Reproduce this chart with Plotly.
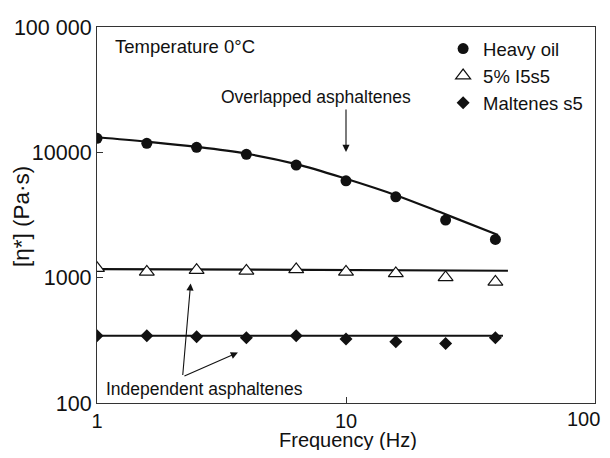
import plotly.graph_objects as go

# ---- data ----
freq = [1, 1.585, 2.512, 3.981, 6.31, 10, 15.85, 25.12, 39.81]

heavy_oil = [12940, 11800, 10960, 9640, 7920, 5930, 4420, 2880, 2020]
i5s5 = [1190, 1112, 1148, 1133, 1163, 1112, 1081, 1004, 925]
maltenes = [344, 344, 337, 331, 344, 324, 308, 299, 331]

heavy_fit_x = [1, 1.585, 2.512, 3.981, 6.31, 10, 15.85, 25.12, 40.8]
heavy_fit_y = [13190, 12150, 11050, 9750, 8050, 6150, 4550, 3200, 2190]
i5s5_fit_x = [1, 44.7]
i5s5_fit_y = [1172, 1135]
malt_fit_x = [1, 42.7]
malt_fit_y = [344, 344]

y_tickvals = [100, 1000, 10000, 100000]
y_ticktext = ["100", "1000", "10000", "100 000"]
x_tickvals = [1, 10, 100]
x_ticktext = ["1", "10", "100"]

FONT = "Liberation Sans, Arial, Helvetica, sans-serif"
INK = "#111111"
TICK_SIZE = 21.5
XTICK_SIZE = 20

fig = go.Figure()

# fit lines
fig.add_trace(go.Scatter(x=heavy_fit_x, y=heavy_fit_y, mode="lines",
                         line=dict(color=INK, width=2.2, shape="spline"),
                         showlegend=False, hoverinfo="skip"))
fig.add_trace(go.Scatter(x=i5s5_fit_x, y=i5s5_fit_y, mode="lines",
                         line=dict(color=INK, width=2.2),
                         showlegend=False, hoverinfo="skip"))
fig.add_trace(go.Scatter(x=malt_fit_x, y=malt_fit_y, mode="lines",
                         line=dict(color=INK, width=2.2),
                         showlegend=False, hoverinfo="skip"))

# data markers
fig.add_trace(go.Scatter(x=freq, y=heavy_oil, mode="markers", name="Heavy oil",
                         marker=dict(symbol="circle", size=11, color=INK,
                                     line=dict(width=0))))
fig.add_trace(go.Scatter(x=freq, y=i5s5, mode="markers", name="5% I5s5",
                         marker=dict(symbol="triangle-up", size=13, color="white",
                                     line=dict(width=1.2, color=INK))))
fig.add_trace(go.Scatter(x=freq, y=maltenes, mode="markers", name="Maltenes s5",
                         marker=dict(symbol="diamond", size=10, color=INK,
                                     line=dict(width=0))))

axis_common = dict(
    showline=True, linecolor="#333333", linewidth=1.2, mirror=True,
    ticks="inside", ticklen=6, tickwidth=1.2, tickcolor="#333333",
    showgrid=False, zeroline=False, automargin=False,
)

# the last x label ("100") sits at the right frame edge; it is drawn as an
# annotation nudged left so it stays inside the window, as in the reference
fig.update_xaxes(type="log", range=[0, 2], tickvals=x_tickvals[:-1],
                 ticktext=x_ticktext[:-1],
                 tickfont=dict(family=FONT, size=XTICK_SIZE, color=INK),
                 **axis_common)
fig.update_yaxes(type="log", range=[2, 5], tickvals=y_tickvals, ticktext=y_ticktext,
                 tickfont=dict(family=FONT, size=TICK_SIZE, color=INK),
                 **axis_common)

ann_font = dict(family=FONT, size=17.5, color=INK)
annotations = [
    dict(text=x_ticktext[-1], xref="paper", yref="paper", x=1, y=-0.042,
         xanchor="right", yanchor="middle", xshift=7, showarrow=False,
         font=dict(family=FONT, size=XTICK_SIZE, color=INK)),
    # axis titles
    dict(text="Frequency (Hz)", xref="paper", yref="paper", x=0.504, y=-0.0971,
         xanchor="center", yanchor="middle", showarrow=False,
         font=dict(family=FONT, size=20, color=INK)),
    dict(text="[η*] (Pa·s)", xref="paper", yref="paper", x=-0.1506, y=0.4947,
         xanchor="center", yanchor="middle", showarrow=False, textangle=-90,
         font=dict(family=FONT, size=22.5, color=INK)),
    # labels
    dict(text="Temperature 0°C", xref="paper", yref="paper", x=0.032, y=0.9476,
         xanchor="left", yanchor="middle", showarrow=False,
         font=dict(family=FONT, size=18.5, color=INK)),
    dict(text="Overlapped asphaltenes", xref="paper", yref="paper", x=0.245, y=0.8146,
         xanchor="left", yanchor="middle", showarrow=False, font=ann_font),
    dict(text="Independent asphaltenes", xref="paper", yref="paper", x=0.015, y=0.037,
         xanchor="left", yanchor="middle", showarrow=False, font=ann_font),
    # arrows
    dict(text="", xref="paper", yref="paper", x=0.5, y=0.6676, ax=0, ay=-44,
         showarrow=True, arrowhead=2, arrowsize=1.3, arrowwidth=1.1, arrowcolor=INK,
         standoff=0),
    dict(text="", xref="paper", yref="paper", x=0.188, y=0.318, ax=-8, ay=93,
         showarrow=True, arrowhead=2, arrowsize=1.3, arrowwidth=1.1, arrowcolor=INK,
         standoff=0),
    dict(text="", xref="paper", yref="paper", x=0.283, y=0.134, ax=-55, ay=24,
         showarrow=True, arrowhead=2, arrowsize=1.3, arrowwidth=1.1, arrowcolor=INK,
         standoff=0),
]

# page body has an 8px margin, so the figure is offset by (8, 8) in the window;
# size chosen so the page fits the 610x458 window without scrollbars
fig.update_layout(
    width=594, height=442,
    margin=dict(l=89, r=7, t=19, b=47),
    paper_bgcolor="white", plot_bgcolor="white",
    font=dict(family=FONT, color=INK),
    annotations=annotations,
    legend=dict(x=0.695, y=0.992, xanchor="left", yanchor="top",
                bgcolor="rgba(0,0,0,0)", borderwidth=0,
                font=dict(family=FONT, size=18.5, color=INK),
                itemwidth=30, tracegroupgap=0),
    showlegend=True,
)

fig.write_html("out.html")
